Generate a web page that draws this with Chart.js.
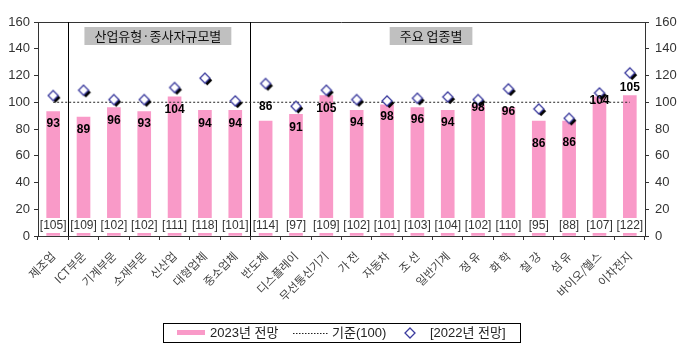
<!DOCTYPE html>
<html><head><meta charset="utf-8">
<script src="https://cdn.jsdelivr.net/npm/chart.js@4/dist/chart.umd.min.js"></script>
<style>html,body{margin:0;padding:0;background:#fff}#wrap{width:681px;height:346px;position:relative}</style>
</head><body><div id="wrap"><canvas id="c" width="681" height="346"></canvas></div>
<script>
// ---- data ----
const categories = ['제조업','ICT부문','기계부문','소재부문','신산업','대형업체','중소업체','반도체','디스플레이','무선통신기기','가 전','자동차','조 선','일반기계','정 유','화 학','철 강','섬 유','바이오/헬스','이차전지'];
const forecast2023 = [93,89,96,93,104,94,94,86,91,105,94,98,96,94,98,96,86,86,104,105];
const forecast2022 = [105,109,102,102,111,118,101,114,97,109,102,101,103,104,102,110,95,88,107,122];
const baseline = [100,100,100,100,100,100,100,100,100,100,100,100,100,100,100,100,100,100,100,100];
const yMin = 0, yMax = 160, yStep = 20;
const groupLabels = ['산업유형·종사자규모별','주요 업종별'];
const groupStarts = [1, 7];
const legendLabels = ['2023년 전망','기준(100)','[2022년 전망]'];

// ---- styling config ----
const valueLabelOffset = [12.5,13,13,12,13,13,13,-14,13,13,12.5,12,12,12.5,3,4,23,22,4,-8];
const groupBoxCenters = [3.45, 12.45];
const PINK = '#f99ac8';
const FONT = "'Liberation Sans', Arial, 'Noto Sans CJK KR', sans-serif";

function makeDiamond(shadow){
  const c = document.createElement('canvas');
  c.width = 16; c.height = 16;
  const g = c.getContext('2d');
  const dia = (cx, cy, r) => { g.beginPath(); g.moveTo(cx, cy - r); g.lineTo(cx + r, cy); g.lineTo(cx, cy + r); g.lineTo(cx - r, cy); g.closePath(); };
  if (shadow) { dia(10.3, 10.3, 5); g.fillStyle = '#000'; g.fill(); }
  dia(8, 8, 5); g.fillStyle = '#fff'; g.fill(); g.strokeStyle = '#3b3b9e'; g.lineWidth = 1.3; g.stroke();
  return c;
}
const diamondImg = makeDiamond(true);
const legendDiamond = makeDiamond(false);

const decor = {
  id: 'decor',
  beforeDatasetsDraw(chart){
    const {ctx, chartArea:a, scales:{x, y}} = chart;
    ctx.save();
    ctx.strokeStyle = '#333'; ctx.lineWidth = 1;
    ctx.beginPath(); ctx.moveTo(a.left, a.top + 0.5); ctx.lineTo(a.right, a.top + 0.5); ctx.stroke();
    ctx.strokeStyle = '#000';
    groupStarts.forEach(s => {
      const px = Math.round((x.getPixelForValue(s - 1) + x.getPixelForValue(s)) / 2) + 0.5;
      ctx.beginPath(); ctx.moveTo(px, a.top); ctx.lineTo(px, a.bottom); ctx.stroke();
    });
    ctx.font = "13px 'Noto Sans CJK KR', sans-serif";
    ctx.textAlign = 'center'; ctx.textBaseline = 'middle';
    groupLabels.forEach((lab, i) => {
      const v = groupBoxCenters[i];
      const i0 = Math.floor(v), f = v - i0;
      const cx = x.getPixelForValue(i0) * (1 - f) + x.getPixelForValue(i0 + 1) * f;
      const w = ctx.measureText(lab).width + 20;
      ctx.fillStyle = '#c0c0c0';
      ctx.fillRect(cx - w / 2, a.top + 5, w, 18);
      ctx.fillStyle = '#111';
      ctx.fillText(lab, cx, a.top + 14.5);
    });
    ctx.restore();
  },
  afterDatasetsDraw(chart){
    const {ctx, scales:{x, y}} = chart;
    const meta = chart.getDatasetMeta(0);
    ctx.save();
    const y0 = y.getPixelForValue(0);
    meta.data.forEach((bar, i) => {
      const cx = bar.x;
      ctx.fillStyle = '#fff';
      ctx.fillRect(cx - 10, y0 - 18, 20, 15);
      ctx.font = '12px ' + FONT;
      ctx.fillStyle = '#333'; ctx.textAlign = 'center'; ctx.textBaseline = 'middle';
      ctx.fillText('[' + forecast2022[i] + ']', cx, y0 - 10);
      ctx.font = "bold 12px 'Liberation Sans Narrow', " + FONT;
      ctx.fillStyle = '#000';
      ctx.fillText(String(forecast2023[i]), cx, bar.y + valueLabelOffset[i]);
    });
    ctx.restore();
  },
  afterDraw(chart){
    const {ctx} = chart;
    ctx.save();
    ctx.strokeStyle = '#000'; ctx.lineWidth = 1;
    ctx.strokeRect(163.5, 323.5, 357, 19);
    const ly = 333;
    ctx.font = "13px 'Liberation Sans', 'Noto Sans CJK KR', sans-serif";
    ctx.textAlign = 'left'; ctx.textBaseline = 'middle';
    ctx.fillStyle = PINK; ctx.fillRect(177, ly - 3, 28, 5);
    ctx.fillStyle = '#222'; ctx.fillText(legendLabels[0], 210, ly);
    ctx.strokeStyle = '#222'; ctx.setLineDash([1.5, 1.5]);
    ctx.beginPath(); ctx.moveTo(293, ly + 0.5); ctx.lineTo(328, ly + 0.5); ctx.stroke();
    ctx.setLineDash([]);
    ctx.fillText(legendLabels[1], 332, ly);
    ctx.drawImage(legendDiamond, 402, ly - 8, 16, 16);
    ctx.fillText(legendLabels[2], 430, ly);
    ctx.restore();
  }
};

const yAxisCommon = {
  min: yMin, max: yMax,
  grid: { drawOnChartArea: false, tickLength: 4, color: '#333' },
  border: { color: '#333' }
};

new Chart(document.getElementById('c'), {
  data: {
    labels: categories,
    datasets: [
      { type: 'bar', label: legendLabels[0], data: forecast2023, backgroundColor: PINK, barThickness: 13, order: 3, yAxisID: 'y' },
      { type: 'line', label: legendLabels[1], data: baseline, borderColor: '#222', borderWidth: 1, borderDash: [2, 2], pointRadius: 0, order: 2, yAxisID: 'y' },
      { type: 'line', label: legendLabels[2], data: forecast2022, showLine: false, pointStyle: diamondImg, pointRadius: 8, order: 1, yAxisID: 'y' }
    ]
  },
  options: {
    responsive: false, animation: false, devicePixelRatio: 1,
    layout: { padding: { top: 22, left: 0, right: 0, bottom: 0 } },
    plugins: { legend: { display: false }, tooltip: { enabled: false } },
    scales: {
      x: {
        offset: true,
        grid: { offset: true, drawOnChartArea: false, tickLength: 4, color: '#333' },
        border: { color: '#333' },
        ticks: { autoSkip: false, minRotation: 45, maxRotation: 45, color: '#444', padding: 9, font: { size: 11.5, family: "'Noto Sans CJK KR', sans-serif" } },
        afterFit(s){ s.height = 110; }
      },
      y: Object.assign({ position: 'left', afterFit(s){ s.width = 38; } }, yAxisCommon, { ticks: { stepSize: yStep, color: '#333', padding: 4, font: { size: 13, family: FONT } } }),
      y2: Object.assign({ position: 'right', afterFit(s){ s.width = 36; } }, yAxisCommon, { ticks: { stepSize: yStep, color: '#333', padding: 6, font: { size: 13, family: FONT } } })
    }
  },
  plugins: [decor]
});
</script>
</body></html>
